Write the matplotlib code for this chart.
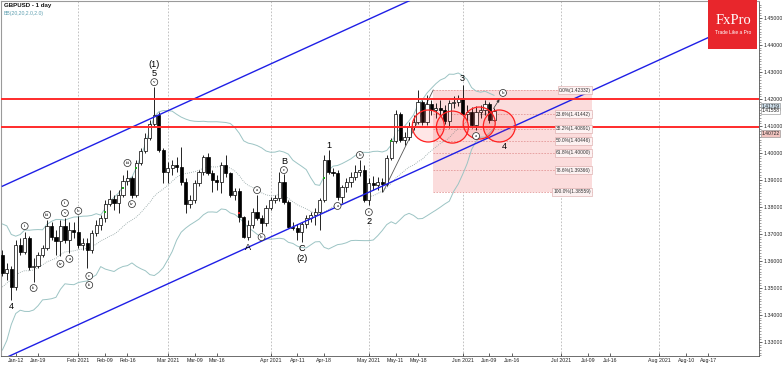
import numpy as np
import pandas as pd
import matplotlib
matplotlib.use("Agg")
import matplotlib.pyplot as plt
import matplotlib.transforms as mtransforms
from matplotlib.patches import Ellipse, Rectangle

W, H = 782, 366
plt.rcParams['font.family'] = ['Liberation Sans', 'DejaVu Sans']

# GBPUSD daily bars, 2021-01-07 .. 2021-06-10 (bar index 0..110)
first_open = 1.3622
highs = [1.3641, 1.3593, 1.3581, 1.3678, 1.3685, 1.3707, 1.3693, 1.3611, 1.3633, 1.3659,
         1.3752, 1.3744, 1.3715, 1.3752, 1.3759, 1.3744, 1.3744, 1.3767, 1.3685, 1.3685,
         1.3715, 1.3752, 1.3770, 1.3826, 1.3863, 1.3844, 1.3863, 1.3919, 1.3937, 1.3915,
         1.3974, 1.4019, 1.4074, 1.4122, 1.4244, 1.4152, 1.4019, 1.3967, 1.3974, 1.3985,
         1.4022, 1.3907, 1.3844, 1.3900, 1.3937, 1.3993, 1.4000, 1.3937, 1.3919, 1.3967,
         1.3993, 1.3930, 1.3870, 1.3870, 1.3767, 1.3752, 1.3796, 1.3844, 1.3770, 1.3807,
         1.3837, 1.3844, 1.3930, 1.3922, 1.3826, 1.3744, 1.3737, 1.3744, 1.3770, 1.3781,
         1.3796, 1.3833, 1.3993, 1.4011, 1.3944, 1.3937, 1.3881, 1.3907, 1.3930, 1.3956,
         1.3974, 1.3956, 1.3907, 1.3915, 1.3911, 1.3907, 1.3993, 1.4056, 1.4159, 1.4152,
         1.4078, 1.4115, 1.4141, 1.4233, 1.4196, 1.4215, 1.4196, 1.4185, 1.4196, 1.4178,
         1.4196, 1.4211, 1.4215, 1.4252, 1.4178, 1.4170, 1.4174, 1.4178, 1.4196, 1.4189,
         1.4167]
lows = [1.3544, 1.3530, 1.3456, 1.3493, 1.3622, 1.3626, 1.3567, 1.3522, 1.3574, 1.3615,
        1.3641, 1.3678, 1.3622, 1.3619, 1.3667, 1.3630, 1.3685, 1.3648, 1.3641, 1.3574,
        1.3630, 1.3693, 1.3715, 1.3744, 1.3804, 1.3789, 1.3778, 1.3837, 1.3881, 1.3833,
        1.3837, 1.3956, 1.4000, 1.4048, 1.4096, 1.4004, 1.3889, 1.3889, 1.3919, 1.3930,
        1.3881, 1.3778, 1.3796, 1.3815, 1.3878, 1.3919, 1.3919, 1.3856, 1.3863, 1.3852,
        1.3911, 1.3837, 1.3826, 1.3744, 1.3685, 1.3678, 1.3722, 1.3752, 1.3707, 1.3730,
        1.3789, 1.3815, 1.3822, 1.3811, 1.3722, 1.3715, 1.3678, 1.3670, 1.3722, 1.3744,
        1.3733, 1.3715, 1.3819, 1.3922, 1.3915, 1.3826, 1.3815, 1.3856, 1.3874, 1.3900,
        1.3915, 1.3819, 1.3807, 1.3863, 1.3863, 1.3856, 1.3878, 1.3974, 1.4037, 1.4041,
        1.4030, 1.4048, 1.4085, 1.4107, 1.4104, 1.4104, 1.4141, 1.4130, 1.4141, 1.4107,
        1.4093, 1.4167, 1.4174, 1.4137, 1.4115, 1.4093, 1.4085, 1.4130, 1.4141, 1.4111,
        1.4119]
closes = [1.3556, 1.3570, 1.3504, 1.3659, 1.3633, 1.3685, 1.3578, 1.3581, 1.3622, 1.3648,
          1.3730, 1.3689, 1.3674, 1.3730, 1.3678, 1.3715, 1.3707, 1.3659, 1.3667, 1.3641,
          1.3704, 1.3733, 1.3759, 1.3811, 1.3830, 1.3815, 1.3844, 1.3896, 1.3907, 1.3844,
          1.3963, 1.4007, 1.4056, 1.4107, 1.4141, 1.4011, 1.3930, 1.3944, 1.3956, 1.3948,
          1.3893, 1.3811, 1.3826, 1.3889, 1.3930, 1.3985, 1.3926, 1.3900, 1.3893, 1.3956,
          1.3926, 1.3844, 1.3859, 1.3763, 1.3689, 1.3733, 1.3781, 1.3759, 1.3741, 1.3796,
          1.3826, 1.3833, 1.3893, 1.3819, 1.3726, 1.3722, 1.3707, 1.3737, 1.3759, 1.3770,
          1.3781, 1.3826, 1.3974, 1.3930, 1.3926, 1.3837, 1.3874, 1.3893, 1.3911, 1.3930,
          1.3937, 1.3826, 1.3889, 1.3881, 1.3893, 1.3885, 1.3981, 1.4044, 1.4144, 1.4048,
          1.4059, 1.4096, 1.4115, 1.4189, 1.4115, 1.4181, 1.4159, 1.4167, 1.4159, 1.4119,
          1.4185, 1.4189, 1.4204, 1.4144, 1.4152, 1.4104, 1.4152, 1.4159, 1.4181, 1.4122,
          1.4156]
# closes of the 19 sessions before the first bar (Bollinger warm-up only)
pre_closes = [1.3285, 1.3230, 1.3315, 1.3450, 1.3560, 1.3590, 1.3510, 1.3455, 1.3440, 1.3510,
              1.3555, 1.3550, 1.3435, 1.3500, 1.3670, 1.3670, 1.3570, 1.3610, 1.3610]

tick_bars = [3, 8, 17, 23, 28, 37, 43, 48, 60, 66, 72, 82, 88, 93, 103, 109, 114,
             125, 131, 136, 147, 153, 158]
tick_labels = ["Jan-12", "Jan-19", "Feb 2021", "Feb-09", "Feb-16", "Mar 2021", "Mar-09",
               "Mar-16", "Apr 2021", "Apr-11", "Apr-18", "May 2021", "May-11", "May-18",
               "Jun 2021", "Jun-09", "Jun-16", "Jul 2021", "Jul-09", "Jul-16", "Aug 2021",
               "Aug-10", "Aug-17"]
month_bars = [17, 37, 60, 82, 103, 125, 147]

red_levels = [1.4200, 1.4097]
channel_bars = [0, 160]
channel_lower = [1.3236, 1.4443]
channel_upper = [1.3877, 1.5084]

fib_high, fib_low = 1.42332, 1.38559
fib_pcts = [0.0, 23.6, 38.2, 50.0, 61.8, 78.6, 100.0]
fib_from, fib_to, fib_end = 85.2, 96.4, 132

circle_bars = [95.3, 100.7, 106.7, 111.2]
circle_prices = [1.4100, 1.4096, 1.4111, 1.4100]

green_bars = [23, 27, 30, 72, 87]
green_prices = [1.3781, 1.3870, 1.3944, 1.3907, 1.4044]
red_bars = [53]
red_prices = [1.3778]

side_prices = [1.41719, 1.41558, 1.40722]
side_faces = ['#cfe0ec', '#ffffff', '#f2c4c0']

# wave labels: bar, anchor, dx px, dy px, text, circled
waves = [
    (2, 'lo', 0, 7, '4', False), (5, 'hi', 0, 6, 'i', True), (7, 'lo', 0, 6, 'ii', True),
    (10, 'hi', 0, 5, 'iii', True), (13, 'lo', 0, 8, 'iv', True), (14, 'hi', 0, 5, 'v', True),
    (14, 'hi', 0, 15, 'i', True), (15, 'lo', 0, 6, 'a', True), (17, 'hi', 0, 5, 'b', True),
    (19, 'lo', 2, 8, 'c', True), (19, 'lo', 2, 17, 'ii', True), (28, 'hi', 0, 7, 'iii', True),
    (29, 'lo', 0, 6, 'iv', True), (34, 'hi', 0, 5, 'v', True), (34, 'hi', 0, 14, '5', False),
    (34, 'hi', 0, 23, '(1)', False), (55, 'lo', 0, 8, 'A', False), (57, 'hi', 0, 5, 'a', True),
    (58, 'lo', 0, 5, 'b', True), (63, 'hi', 0, 4, 'c', True), (63, 'hi', 0, 13, 'B', False),
    (67, 'lo', 0, 6, 'C', False), (67, 'lo', 0, 16, '(2)', False), (73, 'hi', 0, 5, '1', False),
    (75, 'lo', 0, 6, 'a', True), (80, 'hi', 0, 5, 'b', True), (82, 'lo', 0, 7, 'c', True),
    (82, 'lo', 0, 16, '2', False), (103, 'hi', 0, 6, '3', False), (106, 'lo', 0, 6, 'a', True),
    (110, 'lo', 10, 26, '4', False), (110, 'hi', 9, 15, 'b', True),
]

n = len(closes)
x = np.arange(n)
o = np.array([first_open] + closes[:-1])
h = np.array(highs)
l = np.array(lows)
c = np.array(closes)

allc = pd.Series(pre_closes + closes)
mid = allc.rolling(20).mean().to_numpy()[-n:]
sd = allc.rolling(20).std(ddof=0).to_numpy()[-n:]

fig = plt.figure(figsize=(W / 100, H / 100), dpi=100)
fig.patch.set_facecolor('white')
ax = fig.add_axes([1 / W, 10 / H, 758 / W, 355 / H])
ax.set_xlim(-0.3, 169.3)
ax.set_ylim(1.32481, 1.45630)

for mb in month_bars:
    ax.axvline(mb, color='#b8b8b8', lw=0.6, ls=(0, (2, 2)), zorder=0)

# fibonacci box
span = fib_high - fib_low
ax.add_patch(Rectangle((fib_to, fib_low), fib_end - fib_to, span,
                       facecolor='#fbdcdc', edgecolor='none', zorder=1))
for p in fib_pcts:
    lv = fib_high - span * p / 100
    ax.plot([fib_to, fib_end], [lv, lv], color='#e49a9a', lw=0.6, ls=(0, (2, 1.5)), zorder=1.5)
    ax.text(fib_end - 0.3, lv, f"{p:.1f}%({lv:.5f})", fontsize=3.5, ha='right', va='center',
            color='#333333', zorder=6,
            bbox=dict(boxstyle='square,pad=0.25', fc='#fdf2f2', ec='#d8a4a4', lw=0.4))
ax.plot([fib_from, fib_to], [fib_low, fib_high], color='#555555', lw=0.6, zorder=2)

# bollinger bands
ax.plot(x, mid + 2 * sd, color='#9cc4c4', lw=0.7, zorder=2)
ax.plot(x, mid - 2 * sd, color='#9cc4c4', lw=0.7, zorder=2)
ax.plot(x, mid, color='#8a9e9e', lw=0.6, ls=(0, (1, 1.5)), zorder=2)

# candles
up = c >= o
ax.vlines(x, l, h, color='black', lw=0.6, zorder=3)
ax.bar(x, np.maximum(np.abs(c - o), 0.00006), bottom=np.minimum(o, c), width=0.72,
       color=np.where(up, 'white', 'black'), edgecolor='black', linewidth=0.5, zorder=4)
ax.scatter(green_bars, green_prices, s=3, marker='s', color='#1fa51f', zorder=5, linewidths=0)
ax.scatter(red_bars, red_prices, s=3, marker='s', color='#d42020', zorder=5, linewidths=0)

# channel and horizontal levels
ax.plot(channel_bars, channel_lower, color='#1f1fe6', lw=1.0, zorder=5)
ax.plot(channel_bars, channel_upper, color='#1f1fe6', lw=1.0, zorder=5)
for lv in red_levels:
    ax.axhline(lv, color='#ff2b2b', lw=1.4, zorder=5)

# circles around the consolidation
xr = (ax.get_xlim()[1] - ax.get_xlim()[0]) / 758
yr = (ax.get_ylim()[1] - ax.get_ylim()[0]) / 355
rad = 16
for cb, cp in zip(circle_bars, circle_prices):
    ax.add_patch(Ellipse((cb, cp), 2 * rad * xr, 2 * rad * yr, facecolor=(1, 0.2, 0.2, 0.12),
                         edgecolor='#ff2020', lw=0.9, zorder=5.5))

# wave labels
for bar, anc, dx, dy, txt, circ in waves:
    base = h[bar] if anc == 'hi' else l[bar]
    off = dy if anc == 'hi' else -dy
    if circ:
        ax.annotate(txt, (bar, base), xytext=(dx, off), textcoords='offset pixels',
                    ha='center', va='center', fontsize=3.5, family='Liberation Serif', zorder=7,
                    bbox=dict(boxstyle='circle,pad=0.3', fc='white', ec='#222222', lw=0.5))
    else:
        ax.annotate(txt, (bar, base), xytext=(dx, off), textcoords='offset pixels',
                    ha='center', va='center', fontsize=6.6, zorder=7)

# small arrow to the projected b
p0 = ax.transData.transform((x[-1], c[-1]))
p1 = ax.transData.transform((x[-1], h[-1])) + np.array([7, 11])
a0 = ax.transData.inverted().transform(p0 + np.array([-2, 0]))
a1 = ax.transData.inverted().transform(p1)
ax.annotate('', xy=a1, xytext=a0, zorder=7,
            arrowprops=dict(arrowstyle='-|>', lw=0.5, color='#333333', mutation_scale=4))

# axes styling
ax.set_xticks(tick_bars)
ax.set_xticklabels(tick_labels)
ax.tick_params(axis='x', direction='in', length=2.5, width=0.5, pad=1.5, labelsize=3.8,
               colors='#222222')
ax.yaxis.tick_right()
ax.set_yticks(np.round(np.arange(1.33, 1.4501, 0.01), 2))
ax.set_yticklabels([f"{v:.5f}" for v in np.arange(1.33, 1.4501, 0.01)])
ax.set_yticks(np.arange(1.325, 1.456, 0.001), minor=True)
ax.tick_params(axis='y', which='major', direction='out', length=2.5, width=0.5, pad=1,
               labelsize=3.8, colors='#222222')
ax.tick_params(axis='y', which='minor', direction='out', length=1.2, width=0.4, colors='#555555')
for side in ['left', 'top']:
    ax.spines[side].set_color('#9a9a9a')
    ax.spines[side].set_linewidth(0.8)
for side in ['bottom', 'right']:
    ax.spines[side].set_color('#555555')
    ax.spines[side].set_linewidth(0.6)

blend = mtransforms.blended_transform_factory(ax.transAxes, ax.transData)
for sp, fc in zip(side_prices, side_faces):
    ax.text(1.003, sp, f"{sp:.5f}", transform=blend, fontsize=3.6, ha='left', va='center',
            color='#222222', zorder=8, clip_on=False,
            bbox=dict(boxstyle='square,pad=0.15', fc=fc, ec='#8a8a8a', lw=0.4))

# header texts
fig.text(4 / W, 1 - 5 / H, "GBPUSD - 1 day", fontsize=4.4, fontweight='bold', va='center',
         ha='left', color='#111111')
fig.text(4 / W, 1 - 13 / H, "BB(20,20,2.0,2.0)", fontsize=3.7, va='center', ha='left',
         color='#5e9fb0')

# logo
fig.patches.append(Rectangle((708 / W, 1 - 49 / H), 49 / W, 49 / H, transform=fig.transFigure,
                             facecolor='#e8262c', edgecolor='none', zorder=10))
fig.text(733 / W, 1 - 20 / H, "FxPro", fontsize=10.5, family='Liberation Serif', color='white',
         ha='center', va='center', zorder=11)
fig.text(733 / W, 1 - 32 / H, "Trade Like a Pro", fontsize=3.5, color='white',
         ha='center', va='center', zorder=11)

fig.savefig("out.png", dpi=100)
